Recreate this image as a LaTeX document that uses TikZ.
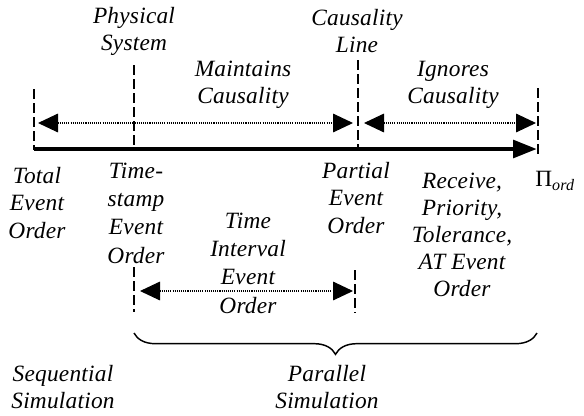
\documentclass[tikz,border=0pt]{standalone}
\usepackage{fontspec}
\setmainfont{Liberation Serif}[LetterSpace=1]
\usetikzlibrary{arrows.meta,positioning,decorations.pathreplacing}

\begin{document}
\begin{tikzpicture}[x=0.75pt, y=-0.75pt,
  lbl/.style={align=center, inner sep=0pt,
    font=\fontsize{17.5}{20.3}\selectfont\itshape},
  wide/.style={font=\fontsize{17.5}{21.2}\selectfont\itshape},
  axis/.style={line width=3.6pt, -{Triangle[length=18pt,width=13pt]}},
  marker/.style={line width=1.1pt, dash pattern=on 7.5pt off 3pt},
  span/.style={line width=0.8pt, dash pattern=on 0.8pt off 0.8pt,
    {Triangle[length=15pt,width=14pt]}-{Triangle[length=15pt,width=14pt]}},
  brc/.style={line width=1.1pt, decorate,
    decoration={brace, mirror, amplitude=16pt}}
]
\useasboundingbox (0,0) rectangle (584,415);

% dashed markers on the ordering axis
\coordinate (tot top) at (34,89);   \coordinate (tot bot) at (34,150);
\coordinate (phy top) at (134,65);  \coordinate (phy bot) at (134,150);
\coordinate (cau top) at (358,60);  \coordinate (cau bot) at (358,147);
\coordinate (ord top) at (538,88);  \coordinate (ord bot) at (538,158);
\coordinate (ts top)  at (134,267); \coordinate (ts bot)  at (134,312);
\coordinate (po top)  at (355,270); \coordinate (po bot)  at (355,313);

\draw[marker] (tot top) -- (tot bot);
\draw[marker] (phy top) -- (phy bot);
\draw[marker] (cau top) -- (cau bot);
\draw[marker] (ord top) -- (ord bot);
\draw[marker] (ts top) -- (ts bot);
\draw[marker] (po top) -- (po bot);

% ordering axis
\coordinate (ax0) at (34,149);
\coordinate (ax1) at (537,149);
\draw[axis] (ax0) -- (ax1);

% causality spans
\coordinate (mc0) at (38,123);  \coordinate (mc1) at (353,123);
\coordinate (ic0) at (364,123); \coordinate (ic1) at (536,123);
\coordinate (ti0) at (140,291); \coordinate (ti1) at (353,291);
\draw[span] (mc0) -- (mc1);
\draw[span] (ic0) -- (ic1);
\draw[span] (ti0) -- (ti1);

% parallel simulation brace
\coordinate (br0) at (134,333);
\coordinate (br1) at (537,333);
\draw[brc] (br0) -- (br1);

% labels
\node[lbl] (phys)    at (134,31)  {Physical\\System};
\node[lbl] (maint)   at (243,85)  {Maintains\\Causality};
\node[lbl] (causl)   at (357,31)  {Causality\\Line};
\node[lbl] (ignor)   at (453,85)  {Ignores\\Causality};
\node[lbl] (total)   at (37,203)  {Total\\Event\\Order};
\node[lbl, wide] (tstamp) at (136,213) {Time-\\stamp\\Event\\Order};
\node[lbl] (partial) at (356,198) {Partial\\Event\\Order};
\node[lbl, wide] (tint)   at (248,263) {Time\\Interval\\Event\\Order};
\node[lbl] (recv)    at (462,235) {Receive,\\Priority,\\Tolerance,\\AT Event\\Order};
\node[lbl] (seq)     at (63,387)  {Sequential\\Simulation};
\node[lbl] (par)     at (327,387) {Parallel\\Simulation};
\node[lbl, anchor=west] (piord) at (535,181)
  {\upshape Π\raisebox{-0.45ex}{\itshape\fontsize{12}{12}\selectfont ord}};
\end{tikzpicture}
\end{document}
